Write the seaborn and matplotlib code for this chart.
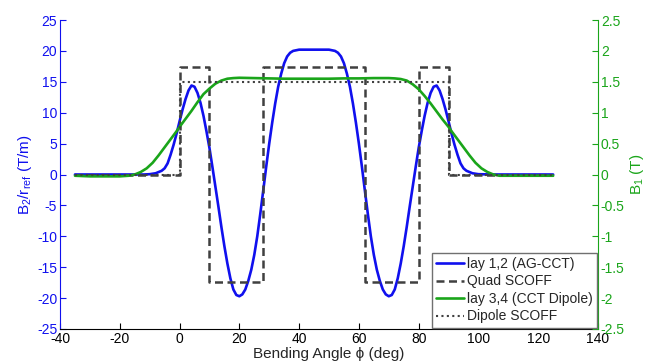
import numpy as np
import pandas as pd
import matplotlib
matplotlib.use("Agg")
import matplotlib.pyplot as plt
import seaborn as sns

# blue: lay 1,2 (AG-CCT), B2/r_ref in T/m
ag_x = [-35, -30, -25, -20, -15, -12, -10, -8, -6, -5, -4, -3, -2, -1,
        0, 1, 2, 3, 4, 5, 6, 7, 8, 9,
        10, 11, 12, 13, 14, 15, 16, 17, 18, 19,
        20, 21, 22, 23, 24, 25, 26, 27, 28, 29,
        30, 31, 32, 33, 34, 35, 36, 37, 38, 39,
        40, 45, 50,
        51, 52, 53, 54, 55, 56, 57, 58, 59,
        60, 61, 62, 63, 64, 65, 66, 67, 68, 69,
        70, 71, 72, 73, 74, 75, 76, 77, 78, 79,
        80, 81, 82, 83, 84, 85, 86, 87, 88, 89,
        90, 91, 92, 93, 94, 95, 96, 98, 100,
        105, 110, 115, 120, 125]
ag_y = [0.0, 0.0, 0.0, 0.0, 0.0, 0.0, 0.05, 0.2, 0.6, 1.0, 1.8, 3.2, 4.8, 6.6,
        8.6, 10.5, 12.2, 13.6, 14.4, 14.2, 13.2, 11.6, 9.5, 7.0,
        4.3, 1.2, -2.0, -5.2, -8.5, -11.6, -14.4, -16.8, -18.6, -19.5,
        -19.7, -19.4, -18.6, -17.2, -15.4, -13.0, -10.0, -6.4, -2.6, 1.3,
        5.0, 8.4, 11.5, 14.2, 16.3, 18.0, 19.1, 19.7, 20.0, 20.1,
        20.2, 20.2, 20.2,
        20.1, 20.0, 19.7, 19.1, 18.0, 16.3, 14.2, 11.5, 8.4,
        5.0, 1.3, -2.6, -6.4, -10.0, -13.0, -15.4, -17.2, -18.6, -19.4,
        -19.7, -19.5, -18.6, -16.8, -14.4, -11.6, -8.5, -5.2, -2.0, 1.2,
        4.3, 7.0, 9.5, 11.6, 13.2, 14.2, 14.4, 13.6, 12.2, 10.5,
        8.6, 6.6, 4.8, 3.2, 1.8, 1.0, 0.6, 0.2, 0.05,
        0.0, 0.0, 0.0, 0.0, 0.0]

# green: lay 3,4 (CCT Dipole), B1 in T
dip_x = [-35, -30, -25, -20, -17, -15, -13, -11, -9, -7, -5, -3, -1,
         0, 2, 4, 6, 8, 10, 12, 14, 16, 18,
         20, 25, 30, 35, 40, 45, 50, 55, 60, 65,
         70, 72, 74, 76, 78, 80, 82, 84, 86, 88,
         90, 91, 93, 95, 97, 99, 101, 103, 105, 107, 110,
         115, 120, 125]
dip_y = [-0.02, -0.03, -0.03, -0.03, -0.02, 0.0, 0.04, 0.1, 0.19, 0.31, 0.44, 0.57, 0.7,
         0.77, 0.9, 1.03, 1.17, 1.3, 1.39, 1.47, 1.52, 1.55, 1.56,
         1.565, 1.56, 1.555, 1.55, 1.55, 1.55, 1.55, 1.555, 1.555, 1.56,
         1.56, 1.555, 1.545, 1.52, 1.46, 1.38, 1.27, 1.15, 1.02, 0.89,
         0.77, 0.7, 0.57, 0.44, 0.31, 0.19, 0.1, 0.04, 0.0, -0.02, -0.02,
         -0.02, -0.02, -0.02]

# SCOFF hard-edge models (step functions)
quad_edges = [-35, 0, 10, 28, 62, 80, 90, 125]
quad_vals = [0, 17.4, -17.4, 17.4, -17.4, 17.4, 0, 0]
dscoff_edges = [-35, 0, 90, 125]
dscoff_vals = [0, 1.5, 0, 0]

blue = "#1010ee"
green = "#1aa51a"
gray = "#404040"

sns.set_style("white")
plt.rcParams["font.family"] = ["Liberation Sans", "DejaVu Sans"]
plt.rcParams["font.size"] = 10
plt.rcParams["axes.unicode_minus"] = False
plt.rcParams["mathtext.fontset"] = "custom"
plt.rcParams["mathtext.rm"] = "Liberation Sans"
plt.rcParams["mathtext.it"] = "Liberation Sans"

fig = plt.figure(figsize=(6.52, 3.63), dpi=100)
ax = fig.add_axes([60 / 652, 1 - 329 / 363, 538 / 652, 309 / 363])
ax2 = ax.twinx()

sns.lineplot(x=ag_x, y=ag_y, ax=ax, color=blue, lw=1.9, label="lay 1,2 (AG-CCT)", legend=False)
sns.lineplot(x=quad_edges, y=quad_vals, ax=ax, color=gray, lw=1.8, ls=(0, (3.2, 1.8)),
             drawstyle="steps-post", label="Quad SCOFF", legend=False)
sns.lineplot(x=dip_x, y=dip_y, ax=ax2, color=green, lw=1.9, label="lay 3,4 (CCT Dipole)", legend=False)
sns.lineplot(x=dscoff_edges, y=dscoff_vals, ax=ax2, color=gray, lw=1.5, ls=(0, (1, 1.6)),
             drawstyle="steps-post", label="Dipole SCOFF", legend=False)

ax.set_xlim(-40, 140)
ax.set_ylim(-25, 25)
ax2.set_ylim(-2.5, 2.5)
ax.set_xticks(np.arange(-40, 141, 20))
ax.set_yticks(np.arange(-25, 26, 5))
ax2.set_yticks(np.arange(-2.5, 2.51, 0.5))
ax2.set_yticklabels(["-2.5", "-2", "-1.5", "-1", "-0.5", "0", "0.5", "1", "1.5", "2", "2.5"])

ax.set_xlabel("Bending Angle \u03d5 (deg)", fontsize=11, labelpad=1)
ax.set_ylabel(r"B$_2$/r$_{\mathrm{ref}}$ (T/m)", color=blue, fontsize=11, labelpad=2)
ax2.set_ylabel(r"B$_1$ (T)", color=green, fontsize=11, labelpad=2)

for a in (ax, ax2):
    a.spines["top"].set_visible(False)
    a.grid(False)
ax.spines["left"].set_color(blue)
ax.spines["bottom"].set_color("black")
ax2.spines["right"].set_color(green)
ax2.spines["left"].set_visible(False)
ax2.spines["bottom"].set_visible(False)
ax.spines["right"].set_visible(False)
ax.tick_params(axis="x", direction="in", length=4, colors="black", pad=2, bottom=True)
ax.tick_params(axis="y", direction="in", length=4, colors=blue, pad=2, left=True)
ax2.tick_params(axis="y", direction="in", length=4, colors=green, pad=2, right=True)

h1, l1 = ax.get_legend_handles_labels()
h2, l2 = ax2.get_legend_handles_labels()
leg = ax2.legend(h1 + h2, l1 + l2, loc="lower right", borderaxespad=0.1, fancybox=False,
                 framealpha=1, edgecolor="#707070", handlelength=2.0, handletextpad=0.2,
                 labelspacing=0.25, borderpad=0.3, fontsize=10)
leg.get_frame().set_linewidth(1.0)

fig.savefig("out.png", dpi=100)
